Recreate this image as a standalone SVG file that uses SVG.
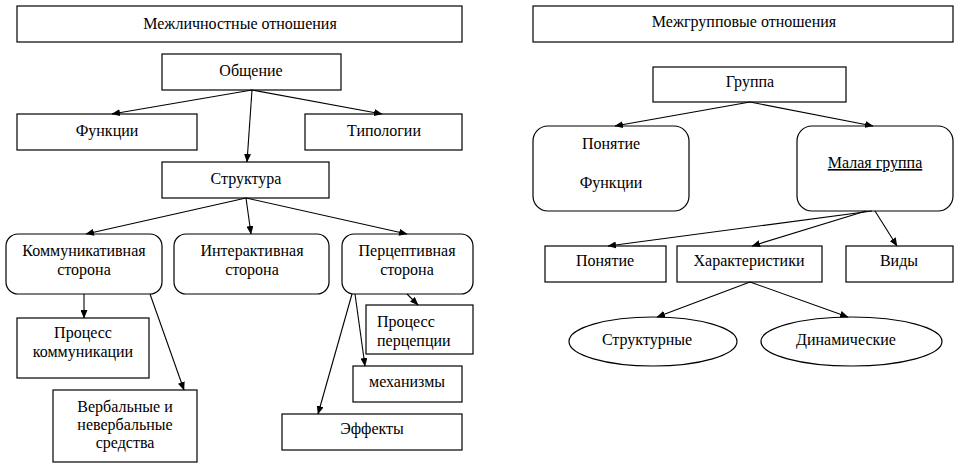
<svg xmlns="http://www.w3.org/2000/svg" width="962" height="468" viewBox="0 0 962 468">
<defs>
<marker id="ah" markerUnits="userSpaceOnUse" markerWidth="9" markerHeight="7" refX="8" refY="3.5" orient="auto">
<path d="M0,0 L8.5,3.5 L0,7 z" fill="#000"/>
</marker>
<style>
.b{fill:#fff;stroke:#000;stroke-width:1.2}
.t{font-size:16px;fill:#000;text-anchor:middle}
.c line{stroke:#000;stroke-width:1.1;marker-end:url(#ah)}
</style>
</defs>
<rect width="962" height="468" fill="#fff"/>
<g font-family="'Liberation Serif', 'DejaVu Serif', serif">
<g id="n-mezhlich"><rect class="b" x="17" y="6" width="445" height="36"/><text class="t" x="240" y="29">Межличностные отношения</text></g>
<g id="n-obshenie"><rect class="b" x="162" y="54" width="179" height="36"/><text class="t" x="251" y="76">Общение</text></g>
<g id="n-funkcii"><rect class="b" x="17" y="114" width="180" height="36"/><text class="t" x="107" y="136">Функции</text></g>
<g id="n-tipologii"><rect class="b" x="305" y="114" width="157" height="36"/><text class="t" x="384" y="136">Типологии</text></g>
<g id="n-struktura"><rect class="b" x="162" y="162" width="167" height="36"/><text class="t" x="246" y="184">Структура</text></g>
<g id="n-kommun"><rect class="b" x="6" y="234" width="156" height="60" rx="12"/><text class="t" x="84" y="256">Коммуникативная</text><text class="t" x="84" y="275">сторона</text></g>
<g id="n-interakt"><rect class="b" x="174" y="234" width="155" height="60" rx="12"/><text class="t" x="252" y="256">Интерактивная</text><text class="t" x="252" y="275">сторона</text></g>
<g id="n-percept"><rect class="b" x="342" y="234" width="131" height="60" rx="12"/><text class="t" x="407" y="256">Перцептивная</text><text class="t" x="407" y="275">сторона</text></g>
<g id="n-proc-komm"><rect class="b" x="17" y="318" width="132" height="60"/><text class="t" x="83" y="338">Процесс</text><text class="t" x="83" y="357">коммуникации</text></g>
<g id="n-verbal"><rect class="b" x="53" y="390" width="144" height="72"/><text class="t" x="125" y="412">Вербальные и</text><text class="t" x="125" y="430">невербальные</text><text class="t" x="125" y="448">средства</text></g>
<g id="n-proc-perc"><rect class="b" x="366" y="305" width="107" height="49"/><text class="t" x="377" y="327" style="text-anchor:start">Процесс</text><text class="t" x="377" y="346" style="text-anchor:start">перцепции</text></g>
<g id="n-mehanizmy"><rect class="b" x="353" y="366" width="109" height="36"/><text class="t" x="407" y="387">механизмы</text></g>
<g id="n-effekty"><rect class="b" x="282" y="414" width="180" height="36"/><text class="t" x="372" y="434">Эффекты</text></g>

<g id="n-mezhgrup"><rect class="b" x="533" y="6" width="420" height="36"/><text class="t" x="744" y="27">Межгрупповые отношения</text></g>
<g id="n-gruppa"><rect class="b" x="653" y="67" width="193" height="35"/><text class="t" x="750" y="87">Группа</text></g>
<g id="n-ponyatie-funk"><rect class="b" x="533" y="126" width="156" height="85" rx="15"/><text class="t" x="611" y="149">Понятие</text><text class="t" x="611" y="188">Функции</text></g>
<g id="n-malaya"><rect class="b" x="797" y="126" width="156" height="85" rx="15"/><text class="t" x="875" y="168" text-decoration="underline">Малая группа</text></g>
<g id="n-ponyatie"><rect class="b" x="545" y="246" width="121" height="36"/><text class="t" x="605" y="266">Понятие</text></g>
<g id="n-harakt"><rect class="b" x="677" y="246" width="145" height="36"/><text class="t" x="749" y="266">Характеристики</text></g>
<g id="n-vidy"><rect class="b" x="846" y="246" width="107" height="36"/><text class="t" x="899" y="266">Виды</text></g>
<g id="n-strukturnye"><ellipse class="b" cx="653" cy="341.5" rx="84" ry="24.5"/><text class="t" x="647" y="345">Структурные</text></g>
<g id="n-dinamich"><ellipse class="b" cx="851.5" cy="341.5" rx="90.5" ry="24.5"/><text class="t" x="846" y="345">Динамические</text></g>
</g>
<g id="connectors" class="c">
<line x1="252" y1="90" x2="112" y2="114"/>
<line x1="252" y1="90" x2="382" y2="114"/>
<line x1="252" y1="90" x2="247" y2="162"/>
<line x1="246" y1="198" x2="86" y2="234"/>
<line x1="246" y1="198" x2="251" y2="234"/>
<line x1="246" y1="198" x2="407" y2="234"/>
<line x1="84" y1="294" x2="84" y2="318"/>
<line x1="150" y1="294" x2="184" y2="390"/>
<line x1="407" y1="294" x2="418" y2="305"/>
<line x1="355" y1="294" x2="365" y2="366"/>
<line x1="352" y1="294" x2="318" y2="414"/>
<line x1="750" y1="102" x2="615" y2="126"/>
<line x1="750" y1="102" x2="873" y2="126"/>
<line x1="872" y1="211" x2="608" y2="246"/>
<line x1="866" y1="211" x2="752" y2="246"/>
<line x1="875" y1="211" x2="897" y2="246"/>
<line x1="750" y1="282" x2="657" y2="317"/>
<line x1="750" y1="282" x2="848" y2="317"/>
</g>
</svg>
